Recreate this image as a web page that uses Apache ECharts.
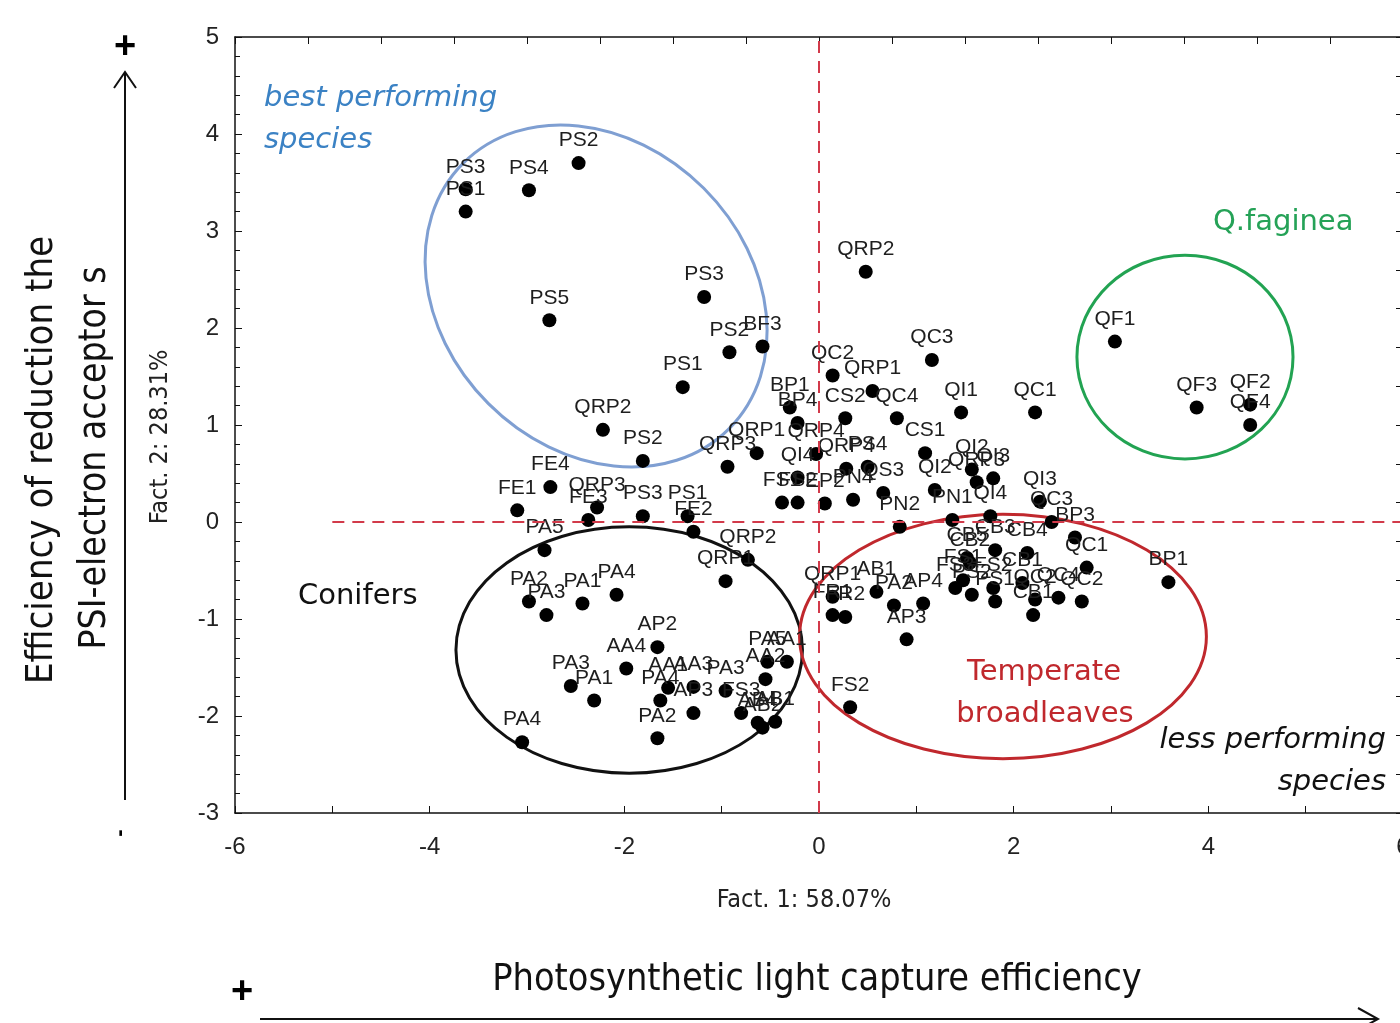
<!DOCTYPE html>
<html><head><meta charset="utf-8">
<script src="https://cdn.jsdelivr.net/npm/echarts@6/dist/echarts.min.js"></script>
<style>html,body{margin:0;padding:0;background:#fff}#c{width:1400px;height:1023px}</style>
</head><body><div id="c"></div>
<script>
// ---- data ----
const pointLabels = ["PS3","PS1","PS4","PS2","PS3","PS5","PS2","BF3","PS1","QRP2","PS2",
 "FE4","FE1","QRP3","FE3","PS3","PS1","FE2","PA5","QRP2","QRP1",
 "PA2","PA3","PA1","PA4","AP2","AA4","PA3","PA1","AA1","AA3","PA4","AP3","PA2","PA4",
 "PA3","PA5","AA1","AA2","FS3","AB4","AB1","AB2","FS2",
 "QRP1","FR1","FR2","AB1","PA2","AP4","AP3",
 "QRP2","QC3","QC2","QRP1","BP1","BP4","CS2","QC4","QI1","QC1",
 "QRP1","QRP3","QRP4","CS1","QI4","QRP4","PS4","QI2","QI2","QRP3","QI3",
 "PN1","QI4","QI3","QC3","BP3","PN2","FS1","FS2","EP2","PN4","QS3",
 "CB3","CB4","CB5","CB2","FS1","FS3","PS2","FS2","PS1","CB1","QC2","CB1","QC4","QC2","QC1",
 "BP1","QF1","QF3","QF2","QF4"];
const fact1 = [-3.63,-3.63,-2.98,-2.47,-1.18,-2.77,-0.92,-0.58,-1.40,-2.22,-1.81,
 -2.76,-3.10,-2.28,-2.37,-1.81,-1.35,-1.29,-2.82,-0.73,-0.96,
 -2.98,-2.80,-2.43,-2.08,-1.66,-1.98,-2.55,-2.31,-1.55,-1.29,-1.63,-1.29,-1.66,-3.05,
 -0.96,-0.53,-0.33,-0.55,-0.80,-0.63,-0.45,-0.58,0.32,
 0.14,0.14,0.27,0.59,0.77,1.07,0.90,
 0.48,1.16,0.14,0.55,-0.30,-0.22,0.27,0.80,1.46,2.22,
 -0.64,-0.94,-0.03,1.09,-0.22,0.28,0.50,1.19,1.57,1.62,1.79,
 1.37,1.76,2.27,2.39,2.63,0.83,-0.38,-0.22,0.06,0.35,0.66,
 1.81,2.14,1.52,1.55,1.48,1.40,1.57,1.79,1.81,2.09,2.22,2.20,2.46,2.70,2.75,
 3.59,3.04,3.88,4.43,4.43];
const fact2 = [3.43,3.20,3.42,3.70,2.32,2.08,1.75,1.81,1.39,0.95,0.63,
 0.36,0.12,0.15,0.02,0.06,0.06,-0.10,-0.29,-0.39,-0.61,
 -0.82,-0.96,-0.84,-0.75,-1.29,-1.51,-1.69,-1.84,-1.71,-1.70,-1.84,-1.97,-2.23,-2.27,
 -1.74,-1.44,-1.44,-1.62,-1.97,-2.07,-2.06,-2.12,-1.91,
 -0.77,-0.96,-0.98,-0.72,-0.86,-0.84,-1.21,
 2.58,1.67,1.51,1.35,1.18,1.02,1.07,1.07,1.13,1.13,
 0.71,0.57,0.70,0.71,0.46,0.55,0.57,0.33,0.54,0.41,0.45,
 0.02,0.06,0.21,0.00,-0.16,-0.05,0.20,0.20,0.19,0.23,0.30,
 -0.29,-0.32,-0.37,-0.42,-0.60,-0.68,-0.75,-0.68,-0.82,-0.63,-0.80,-0.96,-0.78,-0.82,-0.47,
 -0.62,1.86,1.18,1.21,1.00];
const xRange = [-6, 6];
const yRange = [-3, 5];
const refLineX = 0, refLineY = 0, refLineYStart = -5;
// group ellipses in data units: centre, semi-axes, tilt (deg, clockwise)
const groupNames = ["best performing", "Conifers", "Temperate broadleaves", "Q.faginea"];
const groupCx = [-2.29, -1.95, 1.89, 3.76];
const groupCy = [2.33, -1.32, -1.18, 1.70];
const groupRx = [1.93, 1.78, 2.09, 1.11];
const groupRy = [1.57, 1.27, 1.26, 1.05];
const groupTilt = [45, 0, 0, 0];

const chart = echarts.init(document.getElementById('c'));
const pts = fact1.map((x, i) => ({ value: [x, fact2[i]], name: pointLabels[i] }));
const axisCol = '#111';
const arial = "'Liberation Sans', Arial, sans-serif";
const narrow = "'Liberation Sans Narrow', 'Arial Narrow', 'DejaVu Sans Condensed', sans-serif";
const verd = "'DejaVu Sans', Verdana, sans-serif";
const tickFont = { fontFamily: arial, fontSize: 24, color: '#222' };
const grid = { left: 235, top: 37, width: 1168, height: 776, outerBoundsMode: 'none', containLabel: false };
const baseX = { type: 'value', min: xRange[0], max: xRange[1], interval: 2,
  axisLine: { show: true, onZero: false, lineStyle: { color: axisCol, width: 1.5 } },
  axisTick: { show: true, inside: true, length: 7, lineStyle: { color: axisCol } },
  minorTick: { show: true, splitNumber: 2, length: 7, lineStyle: { color: axisCol } },
  splitLine: { show: false } };
const baseY = { type: 'value', min: yRange[0], max: yRange[1], interval: 1,
  axisLine: { show: true, onZero: false, lineStyle: { color: axisCol, width: 1.5 } },
  axisTick: { show: true, inside: true, length: 7, lineStyle: { color: axisCol } },
  minorTick: { show: true, splitNumber: 5, length: 5, lineStyle: { color: axisCol } },
  splitLine: { show: false } };
chart.setOption({
  animation: false,
  backgroundColor: '#fff',
  grid: grid,
  xAxis: [
    Object.assign({}, baseX, { position: 'bottom', axisLabel: Object.assign({ margin: 22 }, tickFont) }),
    Object.assign({}, baseX, { position: 'top', min: 0, max: 12, interval: 0.75,
      minorTick: { show: false }, axisLabel: { show: false } })
  ],
  yAxis: [
    Object.assign({}, baseY, { position: 'left', axisLabel: Object.assign({ margin: 16 }, tickFont) }),
    Object.assign({}, baseY, { position: 'right', min: 0, max: 8, interval: 0.4,
      minorTick: { show: false }, axisLabel: { show: false } })
  ],
  series: [{
    type: 'scatter', xAxisIndex: 0, yAxisIndex: 0,
    symbol: 'circle', symbolSize: 14,
    itemStyle: { color: '#000', opacity: 1 },
    data: pts,
    label: { show: true, position: 'top', distance: 5, formatter: '{b}',
      fontFamily: arial, fontSize: 21, color: '#1e1e1e' },
    markLine: { silent: true, symbol: 'none', animation: false,
      label: { show: false },
      lineStyle: { color: '#d23a4a', width: 2, type: [12, 8] },
      data: [
        [{ coord: [refLineYStart, refLineY] }, { coord: [xRange[1], refLineY] }],
        [{ coord: [refLineX, yRange[0]] }, { coord: [refLineX, yRange[1]] }]
      ] },
    z: 3
  }]
});

// annotations
const ellColors = ['#7f9fd2', '#111111', '#c0282d', '#22a352'];
const p0 = chart.convertToPixel({ xAxisIndex: 0, yAxisIndex: 0 }, [0, 0]);
const p1 = chart.convertToPixel({ xAxisIndex: 0, yAxisIndex: 0 }, [1, 1]);
const sx = p1[0] - p0[0], sy = p0[1] - p1[1];
const graphics = [];
groupCx.forEach((cx, i) => {
  const c = chart.convertToPixel({ xAxisIndex: 0, yAxisIndex: 0 }, [cx, groupCy[i]]);
  graphics.push({ type: 'ellipse', x: c[0], y: c[1], rotation: -groupTilt[i] * Math.PI / 180,
    shape: { cx: 0, cy: 0, rx: groupRx[i] * sx, ry: groupRy[i] * sy },
    style: { fill: null, stroke: ellColors[i], lineWidth: 3 }, z: 2, silent: true });
});
function txt(text, x, y, o) {
  graphics.push(Object.assign({ type: 'text', x: x, y: y, silent: true, z: 10,
    style: Object.assign({ text: text, align: 'left', verticalAlign: 'middle',
      textAlign: 'left', textVerticalAlign: 'middle',
      fontFamily: verd, fontSize: 29, fill: '#000' }, o.style || {}) },
    o.el || {}));
}
const C = { align: 'center', textAlign: 'center' };
const R = { align: 'right', textAlign: 'right' };
txt('best performing', 264, 98, { style: { fill: '#3b82c4', fontStyle: 'italic' } });
txt('species', 264, 140, { style: { fill: '#3b82c4', fontStyle: 'italic' } });
txt('Q.faginea', 1213, 222, { style: { fill: '#25a257' } });
txt('Conifers', 298, 596, { style: { fill: '#111' } });
txt('Temperate', 1044, 672, { style: Object.assign({ fill: '#c0282d' }, C) });
txt('broadleaves', 1045, 714, { style: Object.assign({ fill: '#c0282d' }, C) });
txt('less performing', 1386, 740, { style: Object.assign({ fill: '#111', fontStyle: 'italic' }, R) });
txt('species', 1386, 782, { style: Object.assign({ fill: '#111', fontStyle: 'italic' }, R) });
txt('Fact. 1: 58.07%', 804, 900, { style: Object.assign({ fontFamily: narrow, fontSize: 25, fill: '#222' }, C) });
txt('Fact. 2: 28.31%', 160, 437, { style: Object.assign({ fontFamily: narrow, fontSize: 25, fill: '#222' }, C), el: { rotation: Math.PI / 2 } });
txt('Photosynthetic light capture efficiency', 817, 980, { style: Object.assign({ fontFamily: narrow, fontSize: 37.5, fill: '#111' }, C) });
txt('Efficiency of reduction the', 42, 460, { style: Object.assign({ fontFamily: narrow, fontSize: 38, fill: '#111' }, C), el: { rotation: Math.PI / 2 } });
txt('PSI-electron acceptor s', 95, 458, { style: Object.assign({ fontFamily: narrow, fontSize: 37, fill: '#111' }, C), el: { rotation: Math.PI / 2 } });
txt('+', 125, 48, { style: Object.assign({ fontFamily: arial, fontSize: 38, fontWeight: 'bold' }, C) });
txt('+', 242, 993, { style: Object.assign({ fontFamily: arial, fontSize: 38, fontWeight: 'bold' }, C) });
txt('-', 120, 833, { style: Object.assign({ fontFamily: arial, fontSize: 22, fontWeight: 'bold' }, C), el: { rotation: Math.PI / 2 } });
// arrows
graphics.push({ type: 'line', shape: { x1: 125, y1: 800, x2: 125, y2: 72 }, style: { stroke: '#111', lineWidth: 2 }, silent: true });
graphics.push({ type: 'polyline', shape: { points: [[114, 88], [125, 72], [136, 88]] }, style: { stroke: '#111', lineWidth: 2, fill: null }, silent: true });
graphics.push({ type: 'line', shape: { x1: 260, y1: 1019, x2: 1378, y2: 1019 }, style: { stroke: '#111', lineWidth: 2 }, silent: true });
graphics.push({ type: 'polyline', shape: { points: [[1358, 1008], [1378, 1019], [1358, 1030]] }, style: { stroke: '#111', lineWidth: 2, fill: null }, silent: true });
chart.setOption({ graphic: graphics });
</script></body></html>
